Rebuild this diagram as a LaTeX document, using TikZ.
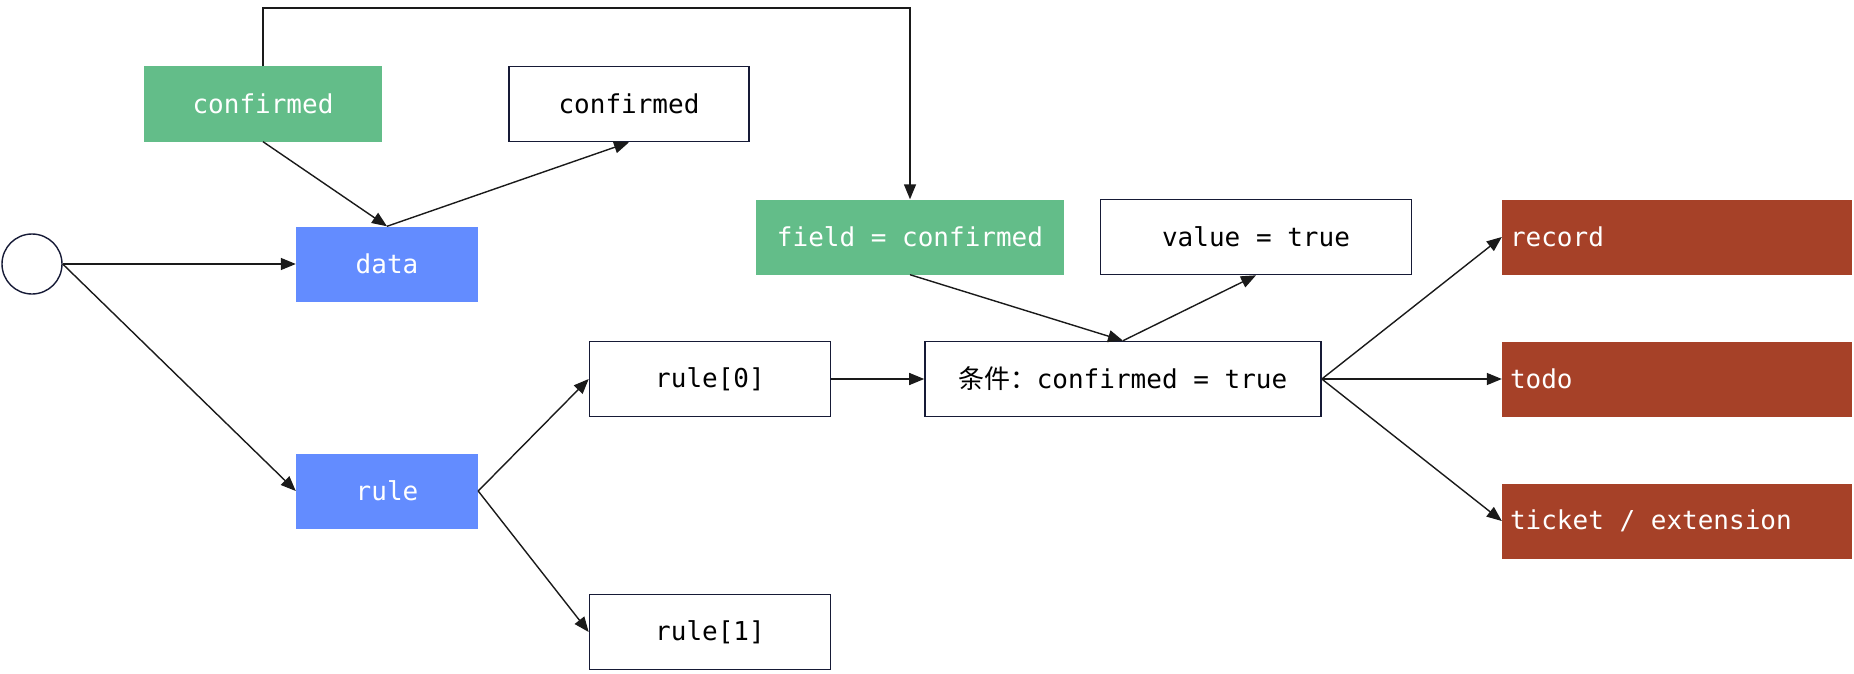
\documentclass[tikz,border=0pt]{standalone}
\usepackage{fontspec}
\setmonofont{DejaVu Sans Mono}
\newfontfamily\cjk{Noto Sans CJK SC}
\usetikzlibrary{arrows.meta}
\definecolor{boxgreen}{HTML}{63BD89}
\definecolor{boxblue}{HTML}{638CFF}
\definecolor{boxred}{HTML}{A64128}
\definecolor{bordercol}{HTML}{161A36}
\definecolor{arrowcol}{HTML}{1A1A1A}
\newcommand\natspaces{\spaceskip=0pt\xspaceskip=0pt\relax}
\tikzset{
  box/.style={rectangle, inner sep=0pt, minimum height=75pt},
  wbox/.style={box, draw=bordercol, line width=1.6pt, fill=white, text=black},
  gbox/.style={box, fill=boxgreen, text=white},
  bbox/.style={box, fill=boxblue, text=white},
  rbox/.style={box, fill=boxred, text=white, inner xsep=8pt, text width=334pt, align=left, minimum width=350pt},
  startnode/.style={circle, draw=bordercol, line width=1.4pt, minimum size=60pt, inner sep=0pt},
  arr/.style={draw=arrowcol, line width=1.4pt, -{Triangle[length=15pt,width=12pt]}}
}
\begin{document}
\begin{tikzpicture}[x=1pt, y=-1pt, font=\ttfamily\fontsize{26}{31}\selectfont]
\useasboundingbox (0,0) rectangle (1854,674);
\fill[white] (0,0) rectangle (1854,674);

\node[startnode] (start) at (32,264) {};
\node[gbox, minimum width=238pt] (conf1) at (263,104) {confirmed};
\node[wbox, minimum width=240pt] (conf2) at (629,104) {confirmed};
\node[bbox, minimum width=182pt] (data) at (387,264) {data};
\node[bbox, minimum width=182pt] (rule) at (387,491) {rule};
\node[wbox, minimum width=241pt] (rule0) at (710,379) {rule[0]};
\node[wbox, minimum width=241pt] (rule1) at (710,632) {rule[1]};
\node[gbox, minimum width=308pt] (field) at (910,237) {field = confirmed};
\node[wbox, minimum width=311pt] (value) at (1256,237) {value = true};
\node[wbox, minimum width=396pt] (cond) at (1123,379) {{\cjk 条件：}confirmed = true};
\node[rbox] (record) at (1677,237) {\natspaces record};
\node[rbox] (todo) at (1677,379) {\natspaces todo};
\node[rbox] (ticket) at (1677,521) {\natspaces ticket / extension};

\coordinate (top) at (263,8);

\draw[arr] (conf1.north) -- (top) -| (field.north);
\draw[arr] (conf1.south) -- (data.north);
\draw[arr] (data.north) -- (conf2.south);
\draw[arr] (start.east) -- (data.west);
\draw[arr] (start.east) -- (rule.west);
\draw[arr] (rule.east) -- (rule0.west);
\draw[arr] (rule.east) -- (rule1.west);
\draw[arr] (rule0.east) -- (cond.west);
\draw[arr] (field.south) -- (cond.north);
\draw[arr] (cond.north) -- (value.south);
\draw[arr] (cond.east) -- (record.west);
\draw[arr] (cond.east) -- (todo.west);
\draw[arr] (cond.east) -- (ticket.west);
\end{tikzpicture}
\end{document}
